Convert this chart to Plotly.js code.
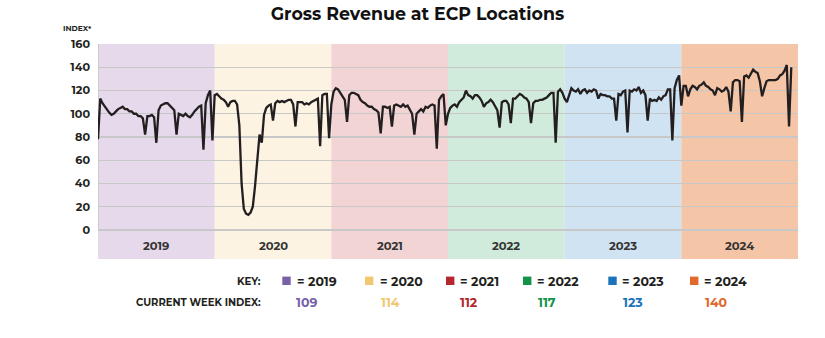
<!DOCTYPE html>
<html><head><meta charset="utf-8">
<script src="https://cdn.plot.ly/plotly-3.0.1.min.js"></script>
<style>html,body{margin:0;padding:0;background:#fff}#chart{width:825px;height:338px}</style>
</head><body><div id="chart"></div>
<script>
// ---- data ----
const years = ['2019','2020','2021','2022','2023','2024'];
const weeksPerYear = 52;
const currentWeekIndex = [109,114,112,117,123,140];
const yTicks = [0,20,40,60,80,100,120,140,160];

const y2019 = [78,113,109,106,103,101,99,100,102,104,105,106,104,104,102,102,100,100,98,98,96,82,98,98,99,97,75,103,107,108,109,109,107,105,103,82,100,99,98,100,98,97,99,102,104,106,107,69,109,116,120,77];
const y2020 = [116,117,115,113,112,110,106,110,111,111,108,90,40,18,14,13,15,20,38,62,82,75,99,105,107,108,94,109,111,110,111,110,111,112,112,108,89,110,110,110,108,109,108,110,111,112,113,72,116,117,117,79];
const y2021 = [108,119,122,121,118,114,112,93,116,118,118,117,116,112,110,109,107,106,106,104,103,101,83,106,106,105,106,89,107,108,107,106,108,106,107,104,100,82,100,102,104,102,106,105,107,108,107,70,112,115,117,90];
const y2022 = [100,105,107,108,106,110,112,114,120,116,115,113,116,116,114,111,106,109,110,112,110,107,103,88,110,111,111,108,92,113,113,115,117,116,114,113,110,92,109,111,111,112,112,113,114,116,118,118,75,119,121,118];
const y2023 = [113,110,116,122,120,119,121,117,120,121,118,120,119,121,120,113,117,116,116,115,115,113,113,94,117,116,119,120,84,120,119,121,120,123,118,120,116,94,113,111,112,111,114,112,115,116,121,121,77,122,129,133];
const y2024 = [107,124,124,115,121,124,123,121,124,125,127,124,123,121,120,116,122,121,119,120,123,119,102,127,129,129,128,93,132,133,131,135,138,136,135,128,115,122,128,129,129,129,129,130,133,134,137,142,89,140];

// ---- styles ----
const bandColors = ['#e5d9eb','#fcf3e3','#f2d4d5','#d0eadb','#d0e3f2','#f4c5a6'];
const keyColors  = ['#7762a8','#f2c771','#b2282e','#14924a','#1b73b9','#e0692b'];
const FONT = 'Montserrat, "Open Sans", sans-serif';
const ink = '#231f20';

const series = [y2019,y2020,y2021,y2022,y2023,y2024];
const yAll = [].concat(...series);
const xAll = yAll.map((_, i) => i);

// pixel helpers for plot-area layout
const L = 98, R = 798, T = 44, B = 259;
const px = x => (x - L) / (R - L);
const py = y => (B - y) / (B - T);

const shapes = [];
const annotations = [];
years.forEach((yr, i) => {
  shapes.push({type:'rect', xref:'x', yref:'y', x0:i*weeksPerYear, x1:(i+1)*weeksPerYear,
    y0:-25, y1:160, fillcolor:bandColors[i], line:{width:0}, layer:'below'});
  annotations.push({xref:'x', yref:'y', x:i*weeksPerYear + weeksPerYear/2, y:-13.5, text:'<b>'+yr+'</b>',
    showarrow:false, font:{family:FONT, size:11.5, color:'#333'}});
});
shapes.push({type:'line', xref:'x', yref:'y', x0:0, x1:0, y0:0, y1:160, line:{color:'#c4c4c4', width:1.5}, layer:'below'});

// key
const sqX = [282.3, 365, 446, 523, 608.3, 690];
const txtX = [295, 377.5, 458, 535, 620, 702];
const numX = [306, 390, 469, 547, 633, 716];
years.forEach((yr, i) => {
  shapes.push({type:'rect', xref:'paper', yref:'paper', x0:px(sqX[i]), x1:px(sqX[i]+8.4),
    y0:py(285), y1:py(276.6), fillcolor:keyColors[i], line:{width:0}});
  annotations.push({xref:'paper', yref:'paper', x:px(txtX[i]), y:py(281), xanchor:'left', yanchor:'middle',
    text:'<b>= '+yr+'</b>', showarrow:false, font:{family:FONT, size:12.5, color:ink}});
  annotations.push({xref:'paper', yref:'paper', x:px(numX[i]), y:py(302), xanchor:'center', yanchor:'middle',
    text:'<b>'+currentWeekIndex[i]+'</b>', showarrow:false, font:{family:FONT, size:12.5, color:keyColors[i]}});
});
annotations.push({xref:'paper', yref:'paper', x:px(263), y:py(281), xanchor:'right', yanchor:'middle',
  text:'<b>KEY:</b>', showarrow:false, font:{family:FONT, size:10.2, color:ink}});
annotations.push({xref:'paper', yref:'paper', x:px(263), y:py(302), xanchor:'right', yanchor:'middle',
  text:'<b>CURRENT WEEK INDEX:</b>', showarrow:false, font:{family:FONT, size:10, color:ink}});
annotations.push({xref:'paper', yref:'paper', x:px(61), y:py(28), xanchor:'left', yanchor:'middle',
  text:'<b>INDEX*</b>', showarrow:false, font:{family:FONT, size:7.5, color:ink}});

const trace = {x:xAll, y:yAll, type:'scatter', mode:'lines', line:{color:ink, width:2.3}, hoverinfo:'skip'};

const layout = {
  width:825, height:338,
  margin:{l:L, r:825-R, t:T, b:338-B, pad:0},
  paper_bgcolor:'#fff', plot_bgcolor:'rgba(0,0,0,0)',
  showlegend:false,
  title:{text:'<b>Gross Revenue at ECP Locations</b>', x:0.506, xref:'container', xanchor:'center',
    y:1-14/338, yref:'container', yanchor:'middle', font:{family:FONT, size:17.4, color:'#111'}},
  xaxis:{range:[0, years.length*weeksPerYear], visible:false, fixedrange:true},
  yaxis:{range:[-25,160], tickvals:yTicks, ticktext:yTicks.map(String), showgrid:true, gridcolor:'#c8c8c8', gridwidth:1.3,
    zeroline:false, showline:false, ticks:'', ticklabelstandoff:7,
    tickfont:{family:FONT, size:11.2, color:ink, weight:700}, fixedrange:true},
  shapes, annotations
};
Plotly.newPlot('chart', [trace], layout, {displayModeBar:false, staticPlot:true});
</script>
</body></html>
